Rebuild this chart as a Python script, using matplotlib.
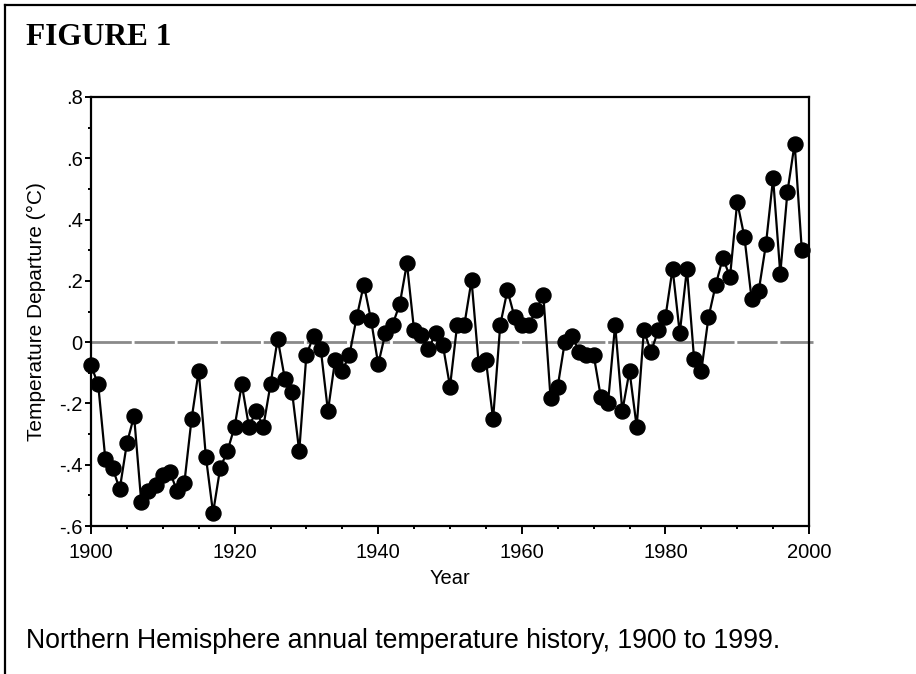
import matplotlib
matplotlib.use("Agg")
import matplotlib.pyplot as plt
from matplotlib.lines import Line2D
from matplotlib.ticker import MultipleLocator

# Northern Hemisphere annual temperature departure (deg C), 1900-1999
years = list(range(1900, 2000))
anomaly = [
    -0.076, -0.138, -0.382, -0.410, -0.480, -0.330, -0.241, -0.522, -0.487, -0.467,  # 1900s
    -0.435, -0.424, -0.487, -0.460, -0.252, -0.094, -0.374, -0.557, -0.410, -0.356,  # 1910s
    -0.276, -0.138, -0.276, -0.225, -0.276, -0.138, 0.011, -0.120, -0.162, -0.356,   # 1920s
    -0.041, 0.019, -0.023, -0.225, -0.058, -0.094, -0.041, 0.081, 0.188, 0.073,      # 1930s
    -0.072, 0.029, 0.057, 0.124, 0.257, 0.038, 0.024, -0.023, 0.029, -0.009,         # 1940s
    -0.145, 0.057, 0.057, 0.202, -0.072, -0.058, -0.251, 0.057, 0.169, 0.081,        # 1950s
    0.057, 0.057, 0.106, 0.153, -0.181, -0.145, 0.002, 0.019, -0.031, -0.041,        # 1960s
    -0.041, -0.178, -0.200, 0.057, -0.225, -0.094, -0.276, 0.038, -0.031, 0.038,     # 1970s
    0.081, 0.240, 0.029, 0.240, -0.056, -0.094, 0.081, 0.186, 0.275, 0.213,          # 1980s
    0.457, 0.344, 0.142, 0.168, 0.319, 0.535, 0.223, 0.491, 0.648, 0.300,            # 1990s
]

x_ticks = [1900, 1920, 1940, 1960, 1980, 2000]
y_ticks = [-0.6, -0.4, -0.2, 0.0, 0.2, 0.4, 0.6, 0.8]
y_tick_labels = ["-.6", "-.4", "-.2", "0", ".2", ".4", ".6", ".8"]

SANS = ["Liberation Sans", "DejaVu Sans"]
plt.rcParams["font.family"] = SANS

W, H = 916, 674
fig = plt.figure(figsize=(W / 100, H / 100), dpi=100)
ax = fig.add_axes([91 / W, 1 - 526 / H, (809 - 91) / W, (526 - 97) / H])

# zero reference line
ax.axhline(0, color="#8a8a8a", lw=2.0, dashes=(14.5, 1.0), zorder=1, xmax=1.006, clip_on=False)

ax.plot(years, anomaly, color="black", lw=1.6, marker="o", markersize=10.8,
        markerfacecolor="black", markeredgecolor="black", zorder=3, clip_on=False)

ax.set_xlim(1900, 2000)
ax.set_ylim(-0.6, 0.8)
ax.set_xticks(x_ticks)
ax.set_xticklabels([str(t) for t in x_ticks])
ax.xaxis.set_minor_locator(MultipleLocator(5))
ax.set_yticks(y_ticks)
ax.set_yticklabels(y_tick_labels)
ax.yaxis.set_minor_locator(MultipleLocator(0.1))

for side in ax.spines.values():
    side.set_linewidth(1.6)
ax.tick_params(axis="x", which="major", direction="out", length=6, width=1.4, labelsize=14.5, pad=6.5)
ax.tick_params(axis="y", which="major", direction="out", length=4.5, width=1.4, labelsize=14.5, pad=1.5)
ax.tick_params(which="minor", direction="out", length=2.5, width=1.4)

ax.set_xlabel("Year", fontsize=14.5)
ax.set_ylabel("Temperature Departure (\u00b0C)", fontsize=15)
ax.xaxis.label.set_verticalalignment("baseline")
ax.xaxis.set_label_coords(0.5, (526 - 584) / (526 - 97))
ax.yaxis.label.set_verticalalignment("baseline")
ax.yaxis.set_label_coords((41.7 - 91) / (809 - 91), 0.5)

# page frame (top and left edge only)
fig.add_artist(Line2D([5 / W, 5 / W], [0, 1 - 5 / H], transform=fig.transFigure,
                      color="black", lw=1.6))
fig.add_artist(Line2D([5 / W, 1], [1 - 5 / H, 1 - 5 / H], transform=fig.transFigure,
                      color="black", lw=1.6))

fig.text(26 / W, 1 - 45 / H, "FIGURE 1", family=["Liberation Serif", "DejaVu Serif"],
         fontweight="bold", fontsize=22.6, ha="left", va="baseline")
fig.text(26 / W, 1 - 648 / H, "Northern Hemisphere annual temperature history, 1900 to 1999.",
         fontsize=19.2, ha="left", va="baseline")

fig.savefig("out.png", dpi=100)
